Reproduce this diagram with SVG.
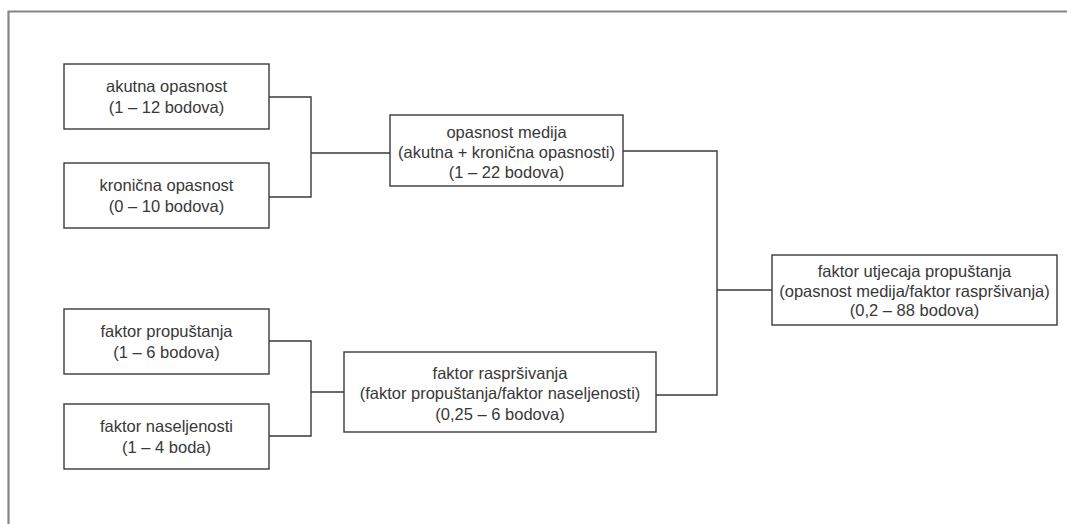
<svg xmlns="http://www.w3.org/2000/svg" width="1067" height="524" viewBox="0 0 1067 524">
<style>
.box{fill:#fff;stroke:#3a3a3a;stroke-width:1.4}
.t{font-family:"Liberation Sans",Arial,sans-serif;font-size:16.5px;fill:#383838;text-anchor:middle}
.c{fill:none;stroke:#3a3a3a;stroke-width:1.4}
</style>
<rect width="1067" height="524" fill="#fff"/>
<path d="M8.5,530 V11.5 H1070" fill="none" stroke="#858585" stroke-width="2.2"/>
<g id="connectors">
<path class="c" d="M269,97 H311 V197 H269 M311,153 H390"/>
<path class="c" d="M269,341 H311 V436 H269 M311,392 H344"/>
<path class="c" d="M623,151 H717 V395 H656 M717,290 H772"/>
</g>
<g id="akutna">
<rect class="box" x="64" y="64" width="205" height="65"/>
<text class="t" x="166.5" y="91.5">akutna opasnost</text>
<text class="t" x="166.5" y="113">(1 – 12 bodova)</text>
</g>
<g id="kronicna">
<rect class="box" x="64" y="163" width="205" height="65"/>
<text class="t" x="166.5" y="190.5">kronična opasnost</text>
<text class="t" x="166.5" y="212">(0 – 10 bodova)</text>
</g>
<g id="medija">
<rect class="box" x="390" y="115" width="233" height="71"/>
<text class="t" x="506.5" y="138">opasnost medija</text>
<text class="t" x="506.5" y="158">(akutna + kronična opasnosti)</text>
<text class="t" x="506.5" y="178">(1 – 22 bodova)</text>
</g>
<g id="propustanja">
<rect class="box" x="64" y="309" width="205" height="65"/>
<text class="t" x="166.5" y="336.5">faktor propuštanja</text>
<text class="t" x="166.5" y="358">(1 – 6 bodova)</text>
</g>
<g id="naseljenosti">
<rect class="box" x="64" y="404" width="205" height="65"/>
<text class="t" x="166.5" y="431.5">faktor naseljenosti</text>
<text class="t" x="166.5" y="453">(1 – 4 boda)</text>
</g>
<g id="rasprsivanja">
<rect class="box" x="344" y="352" width="312" height="80"/>
<text class="t" x="500" y="378.5">faktor raspršivanja</text>
<text class="t" x="500" y="399">(faktor propuštanja/faktor naseljenosti)</text>
<text class="t" x="500" y="419.5">(0,25 – 6 bodova)</text>
</g>
<g id="utjecaja">
<rect class="box" x="772" y="255" width="285" height="70"/>
<text class="t" x="914.5" y="277">faktor utjecaja propuštanja</text>
<text class="t" x="914.5" y="296.5">(opasnost medija/faktor raspršivanja)</text>
<text class="t" x="914.5" y="316">(0,2 – 88 bodova)</text>
</g>
</svg>
